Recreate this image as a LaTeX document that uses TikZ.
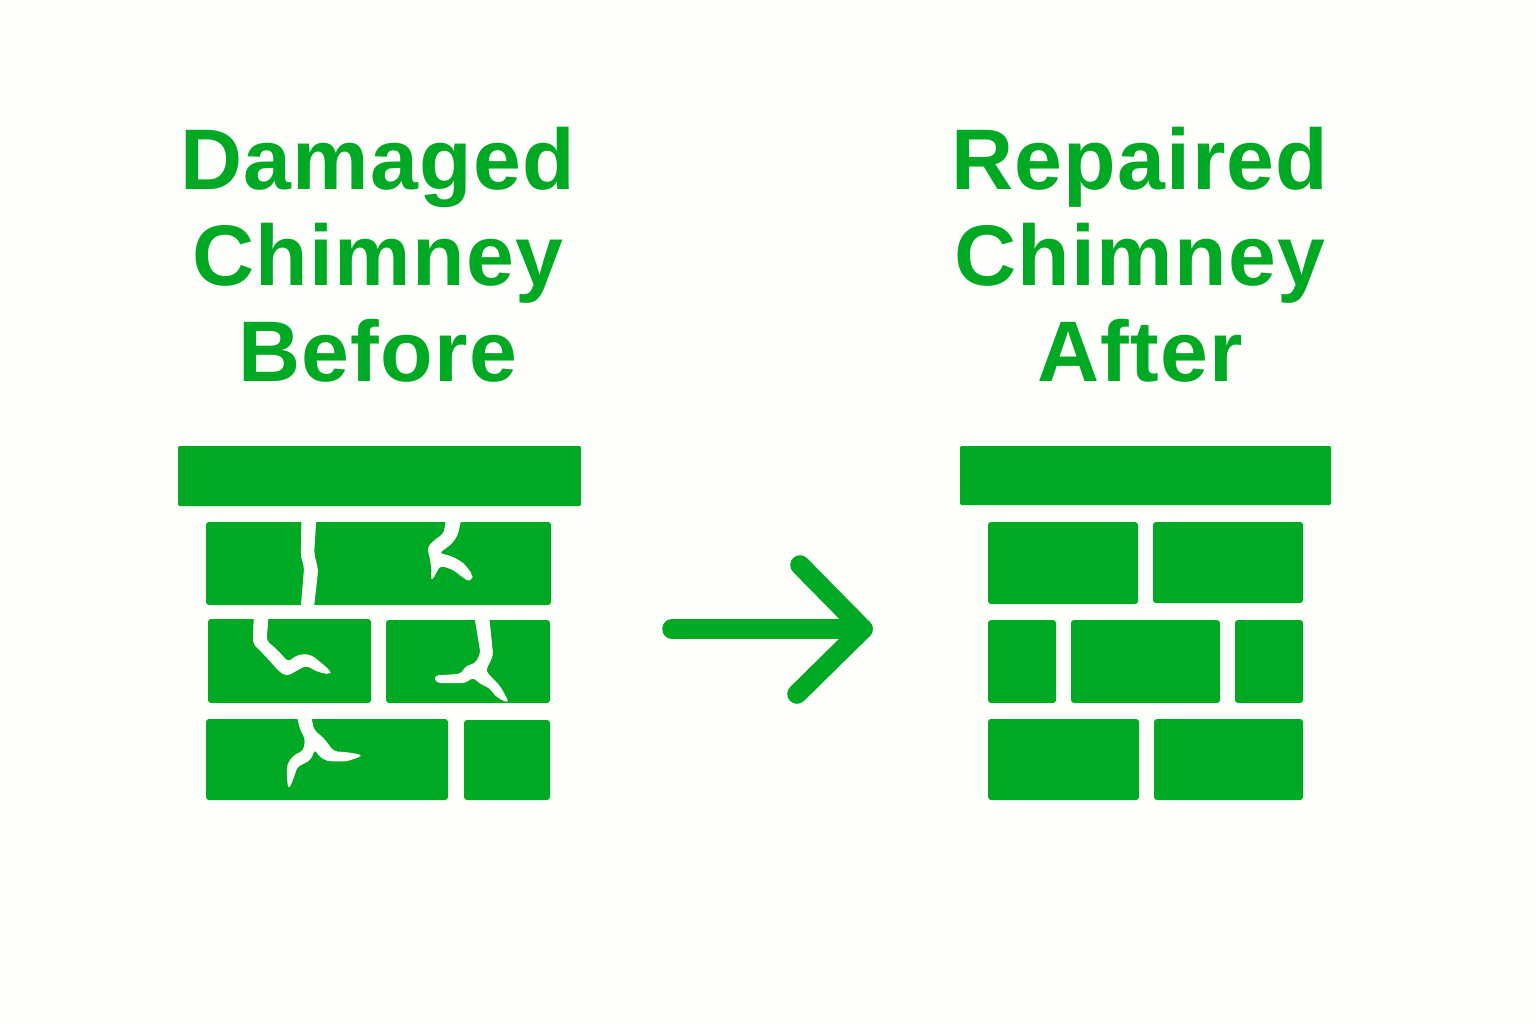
\documentclass[tikz,border=0pt]{standalone}
\usepackage{fontspec}
\setmainfont[LetterSpace=1.5]{Liberation Sans}
\usepackage{tikz}
\definecolor{chimneygreen}{HTML}{00A924}
\definecolor{paper}{HTML}{FEFEFA}
\tikzset{
  brick/.style={fill=chimneygreen,rounded corners=1.5pt},
  capstone/.style={fill=chimneygreen,rounded corners=0.7pt},
  crack/.style={fill=paper,draw=paper,line width=0.5pt,line join=round,rounded corners=2pt},
  heading/.style={text=chimneygreen,align=center,inner sep=0pt,font=\fontsize{43}{48}\selectfont\bfseries},
  shaft/.style={draw=chimneygreen,line width=9.8pt,line cap=round,line join=round}
}
\begin{document}
\begin{tikzpicture}[line cap=round,line join=round,x=0.5pt,y=-0.5pt]
	\fill [color=paper] (0,0) rectangle (1536,1024);
	\useasboundingbox (0,0) rectangle (1536,1024);
	% headings
	\node [heading] (before) at (378,255) {Damaged\\Chimney\\Before};
	\node [heading] (after) at (1140,255) {Repaired\\Chimney\\After};
	% left chimney
	\fill [capstone] (178,446) rectangle (581,506);
	\fill [brick] (206,522) rectangle (551,605);
	\fill [brick] (208,619) rectangle (371,703);
	\fill [brick] (386,620) rectangle (550,703);
	\fill [brick] (206,719) rectangle (448,800);
	\fill [brick] (464,720) rectangle (550,800);
	% cracks
	\begin{scope}[shift={(170,510)},x=0.16667pt,y=-0.16667pt]
		\fill [crack] (396,15)--(394,140)--(404,170)--(393,305)--(429,305)--(443,180)--(431,130)--(438,15)--cycle;
		\fill [crack] (832,15)--(822,72)--(795,90)--(773,112)--(780,140)--(786,175)--(784,212)--(810,165)--(850,178)--(888,208)--(900,210)--(908,197)--(880,160)--(845,140)--(805,130)--(845,100)--(862,75)--(875,15)--cycle;
		\fill [crack] (253,310)--(250,400)--(285,435)--(330,485)--(350,497)--(372,485)--(408,465)--(445,485)--(482,492)--(475,478)--(425,437)--(400,433)--(375,440)--(355,458)--(320,420)--(288,392)--(295,310)--cycle;
		\fill [crack] (913,310)--(933,430)--(915,463)--(890,467)--(873,493)--(793,498)--(800,518)--(885,518)--(910,500)--(930,520)--(958,532)--(980,560)--(1016,578)--(990,530)--(945,483)--(968,437)--(955,310)--cycle;
		\fill [crack] (380,610)--(392,660)--(407,685)--(402,722)--(370,738)--(352,765)--(352,800)--(356,837)--(373,795)--(380,770)--(420,750)--(435,715)--(445,735)--(470,752)--(530,753)--(577,736)--(530,728)--(490,725)--(460,685)--(430,660)--(421,610)--cycle;
	\end{scope}
	% right chimney
	\fill [capstone] (960,446) rectangle (1331,505);
	\fill [brick] (988,522) rectangle (1138,604);
	\fill [brick] (1153,522) rectangle (1303,603);
	\fill [brick] (988,620) rectangle (1056,703);
	\fill [brick] (1071,620) rectangle (1220,703);
	\fill [brick] (1235,620) rectangle (1303,703);
	\fill [brick] (988,719) rectangle (1139,800);
	\fill [brick] (1154,719) rectangle (1303,800);
	% arrow
	\coordinate (tail) at (672,629);
	\coordinate (tip) at (863,629);
	\coordinate (headup) at (800,565);
	\coordinate (headdown) at (797,694);
	\draw [shaft] (tail) -- (tip);
	\draw [shaft] (headup) -- (tip) -- (headdown);
\end{tikzpicture}
\end{document}
